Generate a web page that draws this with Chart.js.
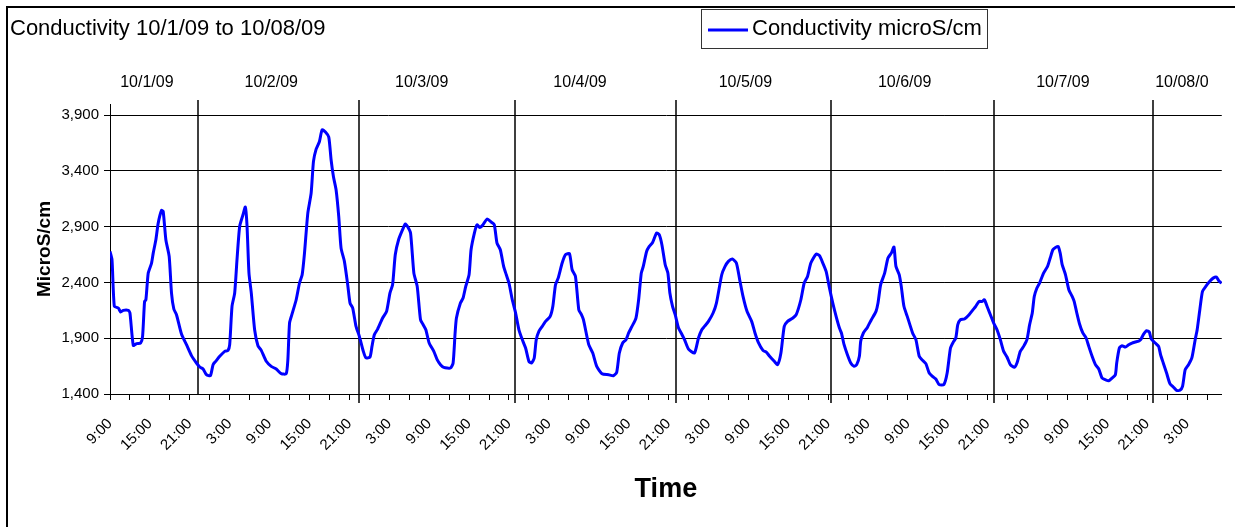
<!DOCTYPE html>
<html>
<head>
    <title>Conductivity 10/1/09 to 10/08/09</title>
    <script src="https://cdn.jsdelivr.net/npm/chart.js"></script>
    <style>
        body { margin: 0; background: #fff; }
        #wrap { width: 1235px; height: 527px; }
    </style>
</head>
<body>
    <div id="wrap"><canvas id="condChart"></canvas></div>
    <script>
        // hours since 10/1/09 9:00
        const hours = [
            0, 0.3, 0.65, 1.25, 1.6, 2, 2.75, 3, 3.5, 4, 4.6, 4.9, 5.2, 5.4, 5.75, 6.25, 6.5, 6.9, 7.25, 7.75,
            8, 8.4, 8.9, 9.25, 9.6, 10, 10.75, 11.5, 12.25, 13, 13.5, 14, 14.5, 15.1, 15.5, 15.9, 16.5, 17.25, 17.75, 18,
            18.35, 18.75, 19.1, 19.5, 20, 20.35, 20.6, 20.9, 21.25, 21.75, 22.25, 22.75, 23.5, 24.25, 25, 25.75, 26.5, 26.75, 27, 27.35,
            28, 28.5, 28.9, 29.25, 29.75, 30.25, 30.6, 31, 31.5, 31.9, 32.4, 32.9, 33.25, 33.6, 34, 34.4, 34.75, 35.25, 35.75, 36.1,
            36.5, 37, 37.5, 38.1, 38.5, 39.1, 39.4, 39.75, 40.25, 41, 41.6, 42.1, 42.5, 42.9, 43.4, 44, 44.4, 44.75, 45.2, 45.7,
            46.2, 46.7, 47.1, 47.5, 48, 48.7, 49.2, 49.7, 50.2, 51.2, 51.6, 51.9, 52.1, 52.7, 53.1, 53.5, 54, 54.3, 54.8, 55.2,
            55.6, 56.1, 56.7, 57.4, 57.8, 58.2, 58.7, 59.2, 59.6, 60, 60.5, 61, 61.5, 62.1, 62.5, 63, 63.4, 63.8, 64.1, 64.5,
            65, 65.5, 66.2, 66.6, 67, 67.4, 68, 68.5, 69.1, 69.5, 70, 70.5, 70.9, 71.2, 72, 72.6, 73.2, 74, 75, 75.7,
            76.2, 76.6, 77.1, 77.6, 78, 78.5, 79.1, 79.5, 79.9, 80.2, 80.7, 81.1, 81.6, 82.2, 82.6, 83, 83.5, 83.9, 84.2, 84.6,
            85, 85.5, 85.9, 86.4, 87, 87.9, 88.5, 89, 89.4, 90, 90.7, 91.2, 92, 92.5, 93, 93.6, 94.2, 94.7, 95.2, 95.8,
            96.5, 97, 97.5, 98.2, 98.7, 99.2, 99.9, 100.4, 100.9, 101.4, 101.9, 102.7, 103.2, 103.9, 104.4, 104.9, 105.4, 106.2, 106.7, 107.2,
            107.7, 108.2, 108.7, 109.2, 109.7, 110, 110.4, 110.9, 111.4, 111.9, 112.3, 112.7, 112.9, 113.3, 113.9, 114.5, 115.2, 115.5, 115.9, 116.5,
            117, 117.5, 117.9, 118.2, 118.7, 119, 119.4, 119.9, 120.7, 121.2, 121.7, 122.2, 122.7, 123.2, 123.7, 124.2, 124.7, 125.4, 125.9, 126.4,
            126.8, 127.2, 127.5, 127.9, 128.5, 129.2, 129.8, 130.2, 130.7, 131.2, 131.5, 132, 132.4, 132.9, 133.4, 133.9, 134.4, 134.9, 135.4, 136,
            136.4, 136.9, 137.4, 137.9, 138.3, 138.7, 139, 139.4, 139.8, 140.4, 141, 141.4, 141.8, 142.2, 142.6, 142.9, 143.2, 143.7, 144.2, 144.7,
            145, 145.4, 145.8, 146.3, 146.8, 147.2, 147.7, 148.2, 148.7, 149.2, 149.7, 150.2, 150.7, 151.2, 151.4, 151.8, 152.2, 152.7, 153.2, 153.7,
            154.2, 154.7, 155, 155.4, 155.9, 156.3, 156.6, 157.2, 157.7, 158, 158.4, 158.9, 159.4, 159.9, 160.4, 160.9, 161.3, 161.7, 162.2, 162.7,
            163.2, 163.5, 163.9, 164.3, 164.8, 165.4, 165.9, 166.4, 166.8, 167.2
        ];
        const conductivity = [
            2678, 2604, 2186, 2171, 2135, 2150, 2150, 2126, 1836, 1851, 1857, 1917, 2230, 2245, 2484, 2574, 2663, 2783, 2932, 3046,
            3037, 2783, 2634, 2305, 2162, 2111, 1938, 1842, 1744, 1678, 1642, 1624, 1573, 1564, 1663, 1693, 1738, 1782, 1791, 1842,
            2186, 2305, 2604, 2902, 3007, 3076, 2917, 2484, 2305, 1976, 1833, 1791, 1693, 1648, 1624, 1582, 1582, 1708, 2036, 2111,
            2245, 2395, 2469, 2663, 3022, 3201, 3485, 3595, 3664, 3769, 3748, 3703, 3500, 3350, 3231, 2992, 2708, 2589, 2380, 2215,
            2171, 2006, 1917, 1782, 1723, 1732, 1827, 1932, 1982, 2081, 2141, 2305, 2380, 2649, 2783, 2873, 2923, 2902, 2843, 2484,
            2365, 2066, 2021, 1976, 1857, 1782, 1708, 1663, 1639, 1633, 1678, 1947, 2081, 2215, 2260, 2365, 2469, 2693, 2843, 2917,
            2893, 2917, 2968, 2938, 2917, 2753, 2693, 2544, 2469, 2395, 2245, 2126, 1976, 1872, 1812, 1693, 1678, 1723, 1887, 1962,
            2006, 2051, 2096, 2186, 2380, 2439, 2574, 2649, 2658, 2514, 2454, 2156, 2111, 2066, 1842, 1767, 1648, 1582, 1573, 1564,
            1594, 1767, 1857, 1887, 1947, 2006, 2081, 2245, 2484, 2544, 2678, 2723, 2759, 2843, 2828, 2738, 2559, 2484, 2305, 2186,
            2111, 1991, 1947, 1887, 1803, 1767, 1902, 1976, 2006, 2051, 2126, 2215, 2469, 2544, 2589, 2610, 2574, 2425, 2275, 2141,
            2051, 1947, 1863, 1791, 1776, 1738, 1693, 1663, 1767, 2006, 2051, 2081, 2111, 2245, 2395, 2454, 2574, 2655, 2640, 2574,
            2499, 2350, 2215, 2096, 1991, 1947, 1842, 1752, 1678, 1648, 1663, 1738, 1872, 1947, 1997, 2066, 2141, 2215, 2380, 2484,
            2619, 2663, 2717, 2544, 2469, 2365, 2186, 2096, 1947, 1887, 1738, 1702, 1672, 1588, 1558, 1534, 1484, 1484, 1588, 1812,
            1863, 1902, 2021, 2066, 2072, 2111, 2156, 2186, 2230, 2230, 2245, 2171, 2111, 2036, 1976, 1887, 1782, 1732, 1663, 1639,
            1678, 1782, 1827, 1887, 2021, 2126, 2275, 2350, 2395, 2484, 2544, 2619, 2693, 2714, 2723, 2663, 2559, 2469, 2335, 2275,
            2230, 2126, 2030, 1947, 1902, 1827, 1738, 1663, 1624, 1543, 1528, 1519, 1543, 1573, 1678, 1812, 1833, 1821, 1842, 1857,
            1866, 1875, 1887, 1932, 1968, 1956, 1893, 1857, 1827, 1752, 1678, 1588, 1493, 1463, 1433, 1433, 1469, 1618, 1663, 1723,
            1887, 1976, 2156, 2320, 2365, 2410, 2439, 2448, 2410, 2395
        ];

        const yTicks = [1400, 1900, 2400, 2900, 3400, 3900];
        const xTicks = [];   // tick mark every 3 hours, label every 6
        for (let h = 0; h <= 165; h += 3) xTicks.push(h);

        // day divider lines and the date written above each day
        const dividerHours = [13.24, 37.38, 60.97, 85.16, 108.5, 132.9, 156.9];
        const dateLabels = ['10/1/09', '10/2/09', '10/3/09', '10/4/09', '10/5/09', '10/6/09', '10/7/09', '10/08/0'];
        const dateLabelHours = [5.54, 24.26, 46.88, 70.69, 95.55, 119.5, 143.3, 161.2];

        const FONT = 'Liberation Sans, Arial, sans-serif';
        Chart.defaults.font.family = FONT;
        Chart.defaults.color = '#000';

        const overlay = {
            id: 'overlay',
            beforeDraw(chart) {
                const ctx = chart.ctx;
                ctx.save();
                ctx.strokeStyle = '#000';
                ctx.lineWidth = 2;
                ctx.beginPath();
                ctx.moveTo(7, chart.height);
                ctx.lineTo(7, 7);
                ctx.lineTo(chart.width, 7);
                ctx.stroke();
                ctx.restore();
            },
            beforeDatasetsDraw(chart) {
                const ctx = chart.ctx;
                const xs = chart.scales.x;
                const area = chart.chartArea;
                ctx.save();
                ctx.strokeStyle = '#000';
                ctx.lineWidth = 1.5;
                ctx.beginPath();
                dividerHours.forEach((h, i) => {
                    const px = Math.round(xs.getPixelForValue(h));
                    ctx.moveTo(px, area.top - 4);
                    ctx.lineTo(px, i === 0 ? area.bottom : area.bottom + 9);
                });
                ctx.stroke();
                ctx.fillStyle = '#000';
                ctx.font = '16px ' + FONT;
                ctx.textAlign = 'center';
                ctx.textBaseline = 'middle';
                dateLabels.forEach((t, i) => {
                    ctx.fillText(t, xs.getPixelForValue(dateLabelHours[i]), area.top - 21);
                });
                ctx.restore();
            },
            afterDraw(chart) {
                // boxed legend, top right of the title
                const ctx = chart.ctx;
                const ds = chart.data.datasets[0];
                ctx.save();
                ctx.fillStyle = '#fff';
                ctx.fillRect(701, 9, 286, 39);
                ctx.strokeStyle = '#333';
                ctx.lineWidth = 1;
                ctx.strokeRect(701.5, 9.5, 286, 39);
                ctx.strokeStyle = ds.borderColor;
                ctx.lineWidth = 3;
                ctx.beginPath();
                ctx.moveTo(708, 30);
                ctx.lineTo(748, 30);
                ctx.stroke();
                ctx.fillStyle = '#000';
                ctx.font = '22px ' + FONT;
                ctx.textBaseline = 'middle';
                ctx.fillText(ds.label, 752, 29);
                ctx.restore();
            }
        };

        const ctx = document.getElementById('condChart').getContext('2d');
        new Chart(ctx, {
            type: 'line',
            data: {
                datasets: [{
                    label: 'Conductivity microS/cm',
                    data: hours.map((h, i) => ({ x: h, y: conductivity[i] })),
                    borderColor: '#0000ff',
                    borderWidth: 3,
                    pointRadius: 0,
                    tension: 0.2,
                    fill: false
                }]
            },
            options: {
                responsive: true,
                maintainAspectRatio: false,
                animation: false,
                layout: { padding: { left: 10, right: 10, top: 0, bottom: 0 } },
                plugins: {
                    legend: { display: false },
                    tooltip: { enabled: false },
                    title: {
                        display: true,
                        text: 'Conductivity 10/1/09 to 10/08/09',
                        align: 'start',
                        color: '#000',
                        font: { size: 22, weight: 'normal' },
                        padding: { top: 16, bottom: 61.6 }
                    }
                },
                scales: {
                    x: {
                        type: 'linear',
                        min: 0,
                        max: 167.2,
                        afterBuildTicks: s => { s.ticks = xTicks.map(v => ({ value: v })); },
                        afterFit: s => { s.height = 133; },
                        grid: { drawOnChartArea: false, drawTicks: true, tickLength: 6, color: '#000' },
                        border: { color: '#000', width: 1 },
                        ticks: {
                            autoSkip: false,
                            maxRotation: 45,
                            minRotation: 45,
                            padding: 15,
                            font: { size: 15 },
                            callback: v => {
                                const h = Math.round(v);
                                return h % 6 === 0 ? ((9 + h) % 24) + ':00' : '';
                            }
                        },
                        title: {
                            display: true,
                            text: 'Time',
                            font: { size: 27, weight: 'bold' },
                            padding: { top: 0, bottom: 21 }
                        }
                    },
                    y: {
                        min: 1400,
                        max: 4000,
                        afterBuildTicks: s => { s.ticks = yTicks.map(v => ({ value: v })); },
                        afterFit: s => { s.width = 100; },
                        grid: { color: '#000', drawTicks: true, tickLength: 6 },
                        border: { color: '#000', width: 1 },
                        ticks: {
                            padding: 5,
                            font: { size: 15 },
                            callback: v => v.toLocaleString('en-US')
                        },
                        title: {
                            display: true,
                            text: 'MicroS/cm',
                            font: { size: 19, weight: 'bold' },
                            padding: { top: 23, bottom: 0 }
                        }
                    }
                }
            },
            plugins: [overlay]
        });
    </script>
</body>
</html>
